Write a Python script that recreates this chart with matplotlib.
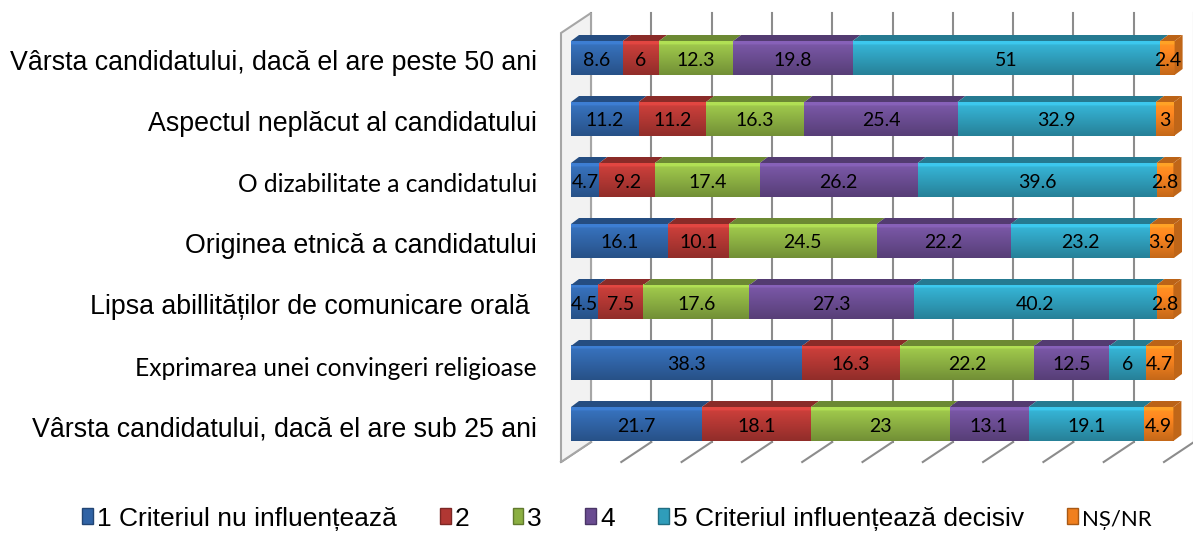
import numpy as np
import matplotlib.pyplot as plt
from matplotlib.patches import Polygon, Patch
from matplotlib import colors as mcolors

# categorii (de sus in jos)
categorii = [
    "Vârsta candidatului, dacă el are peste 50 ani",
    "Aspectul neplăcut al candidatului",
    "O dizabilitate a candidatului",
    "Originea etnică a candidatului",
    "Lipsa abillităților de comunicare orală ",
    "Exprimarea unei convingeri religioase",
    "Vârsta candidatului, dacă el are sub 25 ani",
]
serii = ["1 Criteriul nu influențează", "2", "3", "4",
         "5 Criteriul influențează decisiv", "NȘ/NR"]

v1 = [8.6, 11.2, 4.7, 16.1, 4.5, 38.3, 21.7]
v2 = [6, 11.2, 9.2, 10.1, 7.5, 16.3, 18.1]
v3 = [12.3, 16.3, 17.4, 24.5, 17.6, 22.2, 23]
v4 = [19.8, 25.4, 26.2, 22.2, 27.3, 12.5, 13.1]
v5 = [51, 32.9, 39.6, 23.2, 40.2, 6, 19.1]
v6 = [2.4, 3, 2.8, 3.9, 2.8, 4.7, 4.9]
valori = [v1, v2, v3, v4, v5, v6]

culori = ["#3063A5", "#B13733", "#8BAF42", "#6A4C91", "#2F9DBA", "#F07F1E"]

# fonturi: etichete Calibri-like pentru doua categorii
font_cat = ["Liberation Sans", "Liberation Sans", "Lato", "Liberation Sans",
            "Liberation Sans", "Lato", "Liberation Sans"]

fig = plt.figure(figsize=(11.93, 5.33), dpi=100)
ax = fig.add_axes([0, 0, 1, 1])
ax.axis("off")

# scara: procente pe x, categorii pe y (pixeli -> unitati)
PX = 6.03   # px per procent
PY = 61.0   # px per categorie
def dx(px):
    return px / PX
def dy(py):
    return py / PY

n = len(categorii)
h = dy(34)            # inaltimea fetei din fata
adx, ady = dx(8), dy(-6)   # adancimea barei

# pereti: planul din spate
bx, by = dx(20), dy(-13.3)       # spate fata de planul barelor
fx, fy = dx(-10), dy(6.7)        # fata fata de planul barelor
y_top_b = dy(13 - 58)
y_bot_b = dy(442 - 58)
y_top_f = y_top_b + dy(20)
y_bot_f = y_bot_b + dy(20)

# perete stanga
ax.add_patch(Polygon([(fx, y_top_f), (bx, y_top_b), (bx, y_bot_b), (fx, y_bot_f)],
                     closed=True, facecolor="#f2f2f2", edgecolor="#a6a6a6", lw=1.5, zorder=1))
# grila pe peretele din spate si liniile podelei
for t in np.arange(0, 101, 10):
    ax.plot([t + bx, t + bx], [y_top_b, y_bot_b], color="#8c8c8c", lw=1.5, zorder=0.5)
    ax.plot([t + fx, t + bx], [y_bot_f, y_bot_b], color="#8c8c8c", lw=1.5, zorder=0.5)

def grad(c, top=1.18, bot=0.82, nrows=40):
    r = np.array(mcolors.to_rgb(c))
    f = np.linspace(top, bot, nrows)
    f = np.where(np.linspace(0, 1, nrows) < 0.08, top + 0.1, f)
    return np.clip(r[None, None, :] * f[:, None, None], 0, 1)

for i in range(n):
    cum = 0.0
    yt, yb = i - h / 2, i + h / 2
    for k in range(len(serii)):
        v = valori[k][i]
        x0, x1 = cum, cum + v
        c = culori[k]
        ax.imshow(grad(c), extent=(x0, x1, yb, yt), origin="upper",
                  aspect="auto", interpolation="bilinear", zorder=2)
        dark = np.array(mcolors.to_rgb(c)) * 0.78
        ax.add_patch(Polygon([(x0, yt), (x1, yt), (x1 + adx, yt + ady), (x0 + adx, yt + ady)],
                             closed=True, facecolor=dark, edgecolor="none", zorder=2))
        if k == len(serii) - 1:
            ax.add_patch(Polygon([(x1, yt), (x1 + adx, yt + ady), (x1 + adx, yb + ady), (x1, yb)],
                                 closed=True, facecolor=np.array(mcolors.to_rgb(c)) * 0.8,
                                 edgecolor="none", zorder=2))
        ax.text((x0 + x1) / 2, i + dy(2), f"{v:g}", ha="center", va="center",
                fontsize=14, family="Lato", color="black", zorder=3)
        cum = x1
    ax.text(dx(-34), i + dy(5), categorii[i], ha="right", va="center",
            fontsize=19.3 if font_cat[i] == "Liberation Sans" else 17.7,
            family=font_cat[i], color="black")

handles = [Patch(facecolor=c, edgecolor=np.array(mcolors.to_rgb(c)) * 0.7) for c in culori]
leg = fig.legend(handles, serii, loc="center", bbox_to_anchor=(0.517, 0.027), ncol=6,
                 frameon=False, handlelength=0.4, handleheight=0.55, handletextpad=0.15,
                 columnspacing=1.65, prop={"family": "Liberation Sans", "size": 19})
leg.get_texts()[-1].set_family("Lato")
leg.get_texts()[-1].set_fontsize(16)

ax.set_xlim(dx(-571), dx(1193 - 571))
ax.set_ylim(dy(533 - 58), dy(-58))

fig.savefig("out.png", dpi=100)
